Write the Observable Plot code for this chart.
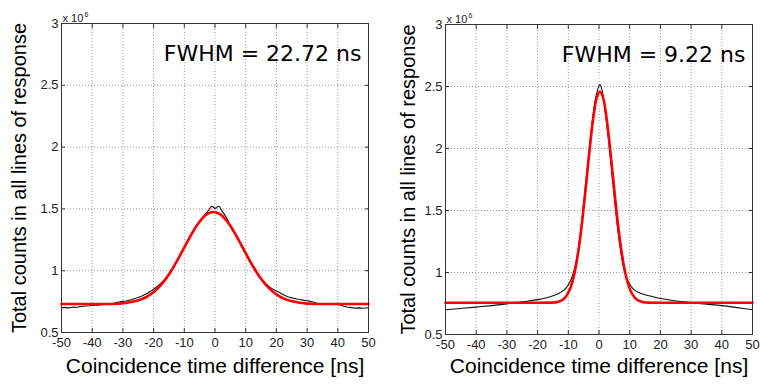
<!DOCTYPE html>
<html>
<head>
<meta charset="utf-8">
<script src="https://cdn.jsdelivr.net/npm/d3@7"></script>
<script src="https://cdn.jsdelivr.net/npm/@observablehq/plot@0.6"></script>
<style>
  html, body { margin: 0; padding: 0; background: #fff; }
  #wrap { display: flex; width: 760px; height: 387px; overflow: hidden; }
  #wrap svg { display: block; overflow: visible; }
</style>
</head>
<body>
<div id="wrap"><div id="left"></div><div id="right"></div></div>
<script>
const xTicks = [-50, -40, -30, -20, -10, 0, 10, 20, 30, 40, 50];
const yTicks = [0.5, 1, 1.5, 2, 2.5, 3];
const xTitle = "Coincidence time difference [ns]";
const yTitle = "Total counts in all lines of response";
const scaleNote = "x 10";
const scaleExp = "6";
const leftFwhm = "FWHM = 22.72 ns";
const rightFwhm = "FWHM = 9.22 ns";

// Left panel: measured (black)
const leftDataX = [-50,-49,-48,-47,-46,-45,-44,-43,-42,-41,-40,-39,-38,-37,-36,-35,-34,-33,-32,-31,-30,-29,-28,-27,-26,-25,-24,-23,-22,-21,-20,-19,-18,-17,-16,-15,-14,-13,-12,-11,-10,-9,-8,-7,-6,-5,-4,-3,-2,-1.5,-1,-0.5,0,0.5,1,1.5,2,3,4,5,6,7,8,9,10,11,12,13,14,15,16,17,18,19,20,21,22,23,24,25,26,27,28,29,30,31,32,33,34,35,36,37,38,39,40,41,42,43,44,45,46,47,48,49,50];
const leftDataY = [0.700,0.703,0.699,0.702,0.705,0.704,0.708,0.712,0.714,0.716,0.719,0.721,0.720,0.724,0.726,0.728,0.731,0.737,0.745,0.748,0.752,0.755,0.761,0.767,0.775,0.783,0.793,0.805,0.818,0.833,0.850,0.868,0.890,0.913,0.940,0.972,1.005,1.048,1.093,1.140,1.185,1.232,1.280,1.322,1.365,1.400,1.432,1.462,1.490,1.512,1.522,1.513,1.503,1.510,1.521,1.517,1.494,1.458,1.418,1.360,1.318,1.275,1.228,1.180,1.133,1.088,1.045,1.005,0.968,0.936,0.908,0.884,0.864,0.848,0.836,0.823,0.810,0.797,0.787,0.780,0.775,0.769,0.765,0.760,0.757,0.752,0.747,0.739,0.733,0.730,0.731,0.729,0.730,0.728,0.726,0.721,0.713,0.706,0.703,0.699,0.697,0.699,0.696,0.698,0.700];
// Left panel: fit (red)
const leftFitX = [-50,-40.5,-36.5,-34.5,-32.5,-30.5,-28.5,-26.5,-24.5,-22.5,-20.5,-18.5,-16.5,-14.5,-12.5,-10.5,-8.5,-6.5,-4.5,-2.5,-0.5,1.5,3.5,5.5,7.5,9.5,11.5,13.5,15.5,17.5,19.5,21.5,23.5,25.5,27.5,29.5,31.5,33.5,35.5,40,50];
const leftFitY = [0.730,0.730,0.730,0.731,0.733,0.736,0.741,0.750,0.764,0.785,0.817,0.861,0.918,0.990,1.074,1.165,1.258,1.344,1.414,1.459,1.475,1.459,1.414,1.344,1.258,1.165,1.074,0.990,0.918,0.861,0.817,0.785,0.764,0.750,0.741,0.736,0.733,0.731,0.730,0.730,0.730];

// Right panel: measured (black)
const rightDataX = [-50,-45,-40,-35,-30,-25,-20,-17,-15,-13,-12,-11,-10,-9,-8,-7,-6,-5,-4,-3,-2,-1,0,0.3,1,2,3,4,5,6,7,8,9,10,11,12,13,14,15,17,20,23,26,30,35,40,45,50];
const rightDataY = [0.700,0.710,0.721,0.733,0.747,0.763,0.781,0.797,0.812,0.833,0.848,0.868,0.900,0.950,1.030,1.150,1.330,1.560,1.800,2.040,2.260,2.420,2.505,2.515,2.470,2.300,2.090,1.850,1.600,1.370,1.180,1.040,0.955,0.905,0.872,0.850,0.838,0.828,0.820,0.808,0.790,0.778,0.768,0.757,0.745,0.733,0.717,0.700];
// Right panel: fit (red)
const rightFitX = [-50,-20,-15.7,-14.7,-13.7,-12.7,-11.7,-10.7,-9.7,-8.7,-7.7,-6.7,-5.7,-4.7,-3.7,-2.7,-1.7,-0.7,0.3,1.3,2.3,3.3,4.3,5.3,6.3,7.3,8.3,9.3,10.3,11.3,12.3,13.3,14.3,15.3,16.3,20,50];
const rightFitY = [0.756,0.756,0.757,0.758,0.761,0.769,0.783,0.809,0.853,0.923,1.029,1.175,1.365,1.590,1.834,2.073,2.276,2.412,2.460,2.412,2.276,2.073,1.834,1.590,1.365,1.175,1.029,0.923,0.853,0.809,0.783,0.769,0.761,0.758,0.757,0.756,0.756];

const toRows = (xs, ys) => xs.map((x, i) => ({x, y: ys[i]}));
const tickFont = "Liberation Sans, Arial, sans-serif";

function panel({dataX, dataY, fitX, fitY, fwhm, margins, yTitleDx, xTitleDy, dataCurve}) {
  return Plot.plot({
    width: 380,
    height: 387,
    ...margins,
    style: {background: "#fff", color: "#000", overflow: "visible"},
    x: {domain: [-50, 50]},
    y: {domain: [0.5, 3]},
    marks: [
      Plot.gridX(xTicks, {stroke: "#999", strokeOpacity: 1, strokeDasharray: "1,2"}),
      Plot.gridY(yTicks, {stroke: "#999", strokeOpacity: 1, strokeDasharray: "1,2"}),
      Plot.axisX(xTicks, {tickSize: 0, tickPadding: 5, fontSize: 13, fontFamily: tickFont, fill: "#222", tickFormat: d => String(d), label: null}),
      Plot.axisY(yTicks, {tickSize: 0, tickPadding: 3, fontSize: 13, fontFamily: tickFont, fill: "#222", tickFormat: d => String(d), label: null}),
      Plot.axisX(xTicks, {tickSize: -4, text: null, label: null, stroke: "#333"}),
      Plot.axisX(xTicks, {anchor: "top", tickSize: -4, text: null, label: null, stroke: "#333"}),
      Plot.axisY(yTicks, {tickSize: -4, text: null, label: null, stroke: "#333"}),
      Plot.axisY(yTicks, {anchor: "right", tickSize: -4, text: null, label: null, stroke: "#333"}),
      Plot.line(toRows(dataX, dataY), {x: "x", y: "y", stroke: "#111", strokeWidth: 1.1, curve: dataCurve}),
      Plot.line(toRows(fitX, fitY), {x: "x", y: "y", stroke: "#ff0000", strokeWidth: 2.6, curve: "catmull-rom"}),
      Plot.frame({stroke: "#333", strokeWidth: 1}),
      Plot.text([fwhm], {frameAnchor: "top-right", textAnchor: "end", dx: -7, dy: 22, fontSize: 22, fontFamily: "DejaVu Sans, Verdana, sans-serif", fill: "#000"}),
      Plot.text([scaleNote], {frameAnchor: "top-left", textAnchor: "start", lineAnchor: "bottom", dx: 1, dy: -2, fontSize: 11, fontFamily: tickFont, fill: "#222"}),
      Plot.text([scaleExp], {frameAnchor: "top-left", textAnchor: "start", lineAnchor: "bottom", dx: 23, dy: -7, fontSize: 7, fontFamily: tickFont, fill: "#222"}),
      Plot.text([xTitle], {frameAnchor: "bottom", textAnchor: "middle", dy: xTitleDy, fontSize: 21, fontFamily: tickFont, fill: "#000"}),
      Plot.text([yTitle], {frameAnchor: "left", textAnchor: "middle", rotate: -90, dx: yTitleDx, fontSize: 20, fontFamily: tickFont, fill: "#000"})
    ]
  });
}

document.getElementById("left").appendChild(panel({
  dataX: leftDataX, dataY: leftDataY, fitX: leftFitX, fitY: leftFitY, fwhm: leftFwhm,
  margins: {marginLeft: 61, marginRight: 12, marginTop: 23, marginBottom: 55},
  yTitleDx: -42, xTitleDy: 40, dataCurve: "linear"
}));
document.getElementById("right").appendChild(panel({
  dataX: rightDataX, dataY: rightDataY, fitX: rightFitX, fitY: rightFitY, fwhm: rightFwhm,
  margins: {marginLeft: 65, marginRight: 8, marginTop: 24, marginBottom: 53},
  yTitleDx: -37, xTitleDy: 38, dataCurve: "catmull-rom"
}));
</script>
</body>
</html>
